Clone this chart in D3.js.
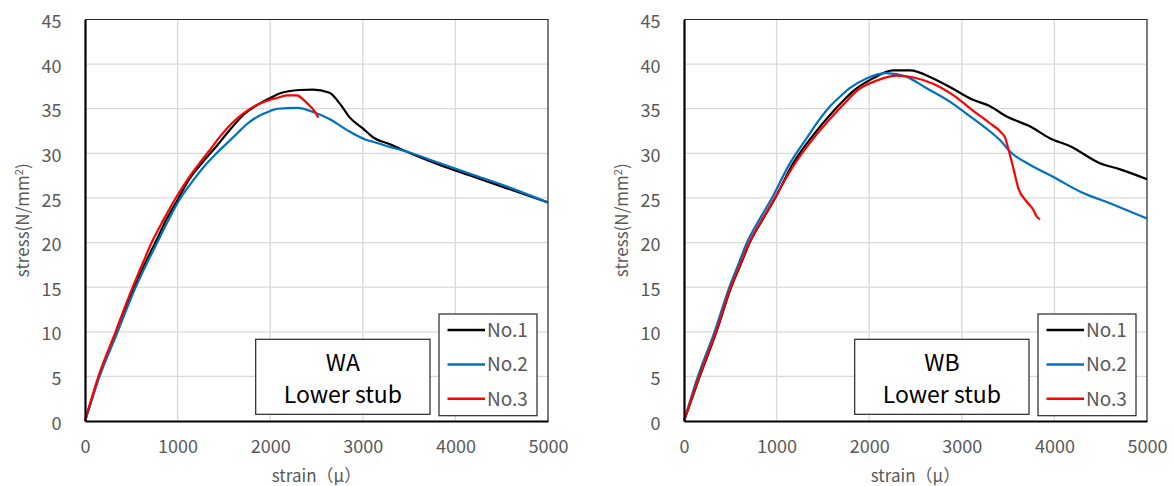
<!DOCTYPE html>
<html>
<head>
<meta charset="utf-8">
<script src="https://cdn.jsdelivr.net/npm/d3@7"></script>
<style>
  body { margin: 0; background: #fff; }
  svg { display: block; }
  .tick-label { font-family: "Noto Sans CJK JP", "Noto Sans", sans-serif; font-size: 18px; fill: #595959; }
  .axis-title { font-family: "Noto Sans CJK JP", "Noto Sans", sans-serif; font-size: 17px; fill: #595959; }
  .legend-text { font-family: "Noto Sans CJK JP", "Noto Sans", sans-serif; font-size: 19px; fill: #595959; }
  .box-text { font-family: "Noto Sans CJK JP", "Noto Sans", sans-serif; font-size: 23px; fill: #000; }
</style>
</head>
<body>
<svg id="chart" width="1174" height="486"></svg>
<script>
// strain ticks / stress ticks
const xTicks = [0, 1000, 2000, 3000, 4000, 5000];
const yTicks = [0, 5, 10, 15, 20, 25, 30, 35, 40, 45];
const seriesNames = ['No.1', 'No.2', 'No.3'];
const seriesColors = ['#000000', '#0070C0', '#FF0000'];

// WA lower stub: [strain, stress]
const wa1 = [[0,0],[150,4.9],[340,9.9],[525,14.8],[640,17.5],[760,20],[880,22.6],[1000,24.8],[1120,27],[1270,29],[1420,30.8],[1570,32.7],[1710,34.3],[1890,35.6],[2000,36.2],[2100,36.7],[2320,37.1],[2460,37.15],[2640,36.8],[2750,35.6],[2860,34],[3000,32.8],[3110,31.8],[3300,31],[3470,30.2],[3830,28.7],[4190,27.4],[4550,26.1],[5000,24.5]];
const wa2 = [[0,0],[150,4.8],[345,9.8],[535,14.7],[660,17.5],[780,20],[900,22.5],[1020,24.8],[1170,27],[1300,28.7],[1420,30],[1540,31.2],[1640,32.2],[1740,33.2],[1830,33.9],[1920,34.4],[2000,34.75],[2080,35],[2290,35.1],[2500,34.5],[2650,33.8],[2830,32.6],[3040,31.5],[3110,31.3],[3300,30.7],[3470,30.2],[3830,28.9],[4190,27.6],[4550,26.3],[5000,24.5]];
const wa3 = [[0,0],[145,5],[330,10],[515,15],[620,17.6],[720,20],[850,22.6],[980,25],[1116,27.2],[1230,28.8],[1350,30.4],[1460,31.9],[1570,33.2],[1700,34.4],[1850,35.4],[2000,36],[2070,36.2],[2180,36.5],[2290,36.5],[2360,36.0],[2430,35.3],[2480,34.7],[2520,34.0]];

// WB lower stub
const wb1 = [[0,0],[170,5],[350,10],[510,15],[610,17.5],[710,20],[850,22.6],[985,25],[1180,28.9],[1400,32.1],[1610,34.7],[1720,35.9],[1830,37],[2040,38.4],[2260,39.3],[2440,39.3],[2690,38.4],[2910,37.2],[3120,36.0],[3300,35.3],[3480,34.15],[3740,33],[3950,31.7],[4170,30.8],[4490,28.9],[4710,28.2],[5000,27.1]];
const wb2 = [[0,0],[150,5],[330,10],[490,15],[585,17.5],[680,20],[815,22.6],[950,25],[1145,28.9],[1325,31.7],[1450,33.6],[1580,35.3],[1690,36.4],[1790,37.3],[1970,38.4],[2190,39.0],[2400,38.6],[2620,37.3],[2870,35.8],[3090,34.15],[3300,32.5],[3420,31.4],[3520,30.2],[3740,28.7],[3990,27.35],[4280,25.7],[4600,24.4],[5000,22.7]];
const wb3 = [[0,0],[165,5],[345,10],[505,15],[605,17.5],[705,20],[845,22.6],[980,25],[1200,28.9],[1430,32.1],[1650,34.7],[1760,35.9],[1865,37],[2080,38.15],[2300,38.7],[2480,38.5],[2690,37.8],[2910,36.5],[3120,34.8],[3300,33.4],[3420,32.4],[3470,31.7],[3500,30.6],[3560,28.2],[3610,26.1],[3700,24.6],[3770,23.7],[3810,22.9],[3845,22.6]];

const svg = d3.select('#chart');

function drawPanel(left, title, series) {
  const top = 19.5, bottom = 421, width = 463;
  const x = d3.scaleLinear().domain([0, 5000]).range([left, left + width]);
  const y = d3.scaleLinear().domain([0, 45]).range([bottom, top]);
  const g = svg.append('g');

  // grid
  g.append('g').selectAll('line').data(xTicks.slice(1, -1)).enter().append('line')
    .attr('x1', d => x(d)).attr('x2', d => x(d)).attr('y1', top).attr('y2', bottom)
    .attr('stroke', '#d9d9d9').attr('stroke-width', 1.3);
  g.append('g').selectAll('line').data(yTicks.slice(1, -1)).enter().append('line')
    .attr('x1', left).attr('x2', left + width).attr('y1', d => y(d)).attr('y2', d => y(d))
    .attr('stroke', '#d9d9d9').attr('stroke-width', 1.3);

  // frame top/right
  g.append('path')
    .attr('d', `M${left},${top}H${left + width}V${bottom}`)
    .attr('fill', 'none').attr('stroke', '#262626').attr('stroke-width', 1.2);

  // series
  const line = d3.line().x(d => x(d[0])).y(d => y(d[1])).curve(d3.curveMonotoneX);
  series.forEach((s, i) => {
    g.append('path').datum(s).attr('d', line)
      .attr('fill', 'none').attr('stroke', seriesColors[i])
      .attr('stroke-width', 2.2).attr('stroke-linejoin', 'round');
  });

  // axes (left/bottom thick)
  const xAxis = g.append('g').attr('transform', `translate(0,${bottom})`)
    .call(d3.axisBottom(x).tickValues(xTicks).tickFormat(d3.format('d')).tickSize(0).tickPadding(0));
  xAxis.select('.domain').attr('stroke', '#000').attr('stroke-width', 2.2);
  xAxis.selectAll('text').attr('class', 'tick-label').attr('dy', null).attr('y', 32);

  const yAxis = g.append('g').attr('transform', `translate(${left},0)`)
    .call(d3.axisLeft(y).tickValues(yTicks).tickSize(0).tickPadding(0));
  yAxis.select('.domain').attr('stroke', '#000').attr('stroke-width', 2.2);
  yAxis.selectAll('text').attr('class', 'tick-label').attr('x', -23.5).attr('dy', '0.45em');

  // axis titles
  g.append('text').attr('class', 'axis-title')
    .attr('x', left + width / 2).attr('y', 482).attr('text-anchor', 'middle')
    .text('strain（μ）');
  const yt = g.append('text').attr('class', 'axis-title')
    .attr('transform', `translate(${left - 56},${(top + bottom) / 2}) rotate(-90)`)
    .attr('text-anchor', 'middle');
  yt.append('tspan').text('stress(N/mm');
  yt.append('tspan').attr('dy', -6).attr('font-size', 11).text('2');
  yt.append('tspan').attr('dy', 6).text(')');

  // title box
  const bx = left + 170.7, bw = 174.3, by = 339.3, bh = 75;
  g.append('rect').attr('x', bx).attr('y', by).attr('width', bw).attr('height', bh)
    .attr('fill', '#fff').attr('stroke', '#262626').attr('stroke-width', 1.2);
  g.append('text').attr('class', 'box-text').attr('x', bx + bw / 2).attr('y', by + 32)
    .attr('text-anchor', 'middle').text(title);
  g.append('text').attr('class', 'box-text').attr('x', bx + bw / 2).attr('y', by + 64)
    .attr('text-anchor', 'middle').text('Lower stub');

  // legend
  const lx = left + width - 11 - 98, ly = 314;
  g.append('rect').attr('x', lx).attr('y', ly).attr('width', 98).attr('height', 101.7)
    .attr('fill', '#fff').attr('stroke', '#262626').attr('stroke-width', 1.2);
  seriesNames.forEach((n, i) => {
    const cy = ly + 16 + i * 34.4;
    g.append('line').attr('x1', lx + 8.5).attr('x2', lx + 46).attr('y1', cy).attr('y2', cy)
      .attr('stroke', seriesColors[i]).attr('stroke-width', 2.5);
    g.append('text').attr('class', 'legend-text').attr('x', lx + 48).attr('y', cy + 7).text(n);
  });
}

drawPanel(85, 'WA', [wa1, wa2, wa3]);
drawPanel(684, 'WB', [wb1, wb2, wb3]);
</script>
</body>
</html>
